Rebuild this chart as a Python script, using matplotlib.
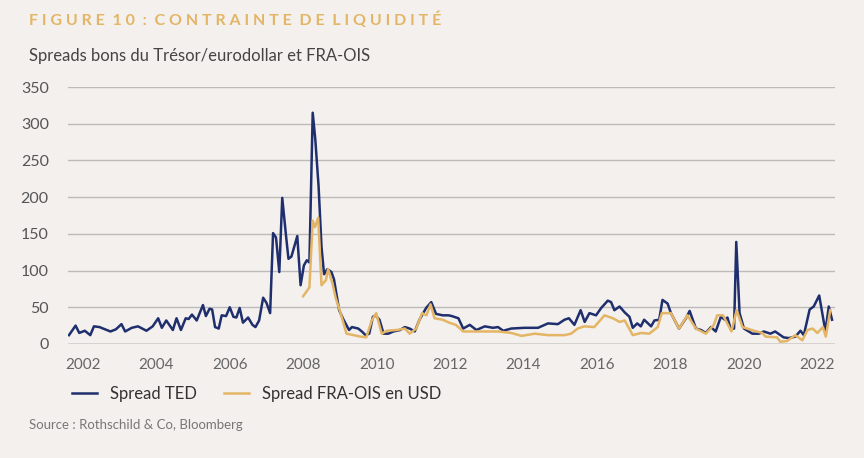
import matplotlib
matplotlib.use("Agg")
import matplotlib.pyplot as plt

ted_x = [2001.62,2001.8,2001.9,2002.05,2002.2,2002.3,2002.45,2002.75,2002.9,2003.05,2003.15,2003.33,2003.5,2003.73,2003.9,2004.05,2004.15,2004.27,2004.45,2004.55,2004.67,2004.8,2004.88,2004.97,2005.1,2005.27,2005.35,2005.45,2005.52,2005.6,2005.7,2005.78,2005.9,2006.0,2006.1,2006.18,2006.27,2006.36,2006.5,2006.62,2006.7,2006.8,2006.91,2007.0,2007.1,2007.18,2007.26,2007.35,2007.43,2007.54,2007.6,2007.68,2007.84,2007.93,2008.02,2008.1,2008.17,2008.26,2008.33,2008.42,2008.5,2008.57,2008.66,2008.77,2008.84,2008.98,2009.1,2009.25,2009.33,2009.5,2009.6,2009.7,2009.8,2009.9,2009.97,2010.08,2010.19,2010.32,2010.46,2010.64,2010.77,2010.9,2011.04,2011.17,2011.35,2011.49,2011.62,2011.8,2011.96,2012.05,2012.23,2012.36,2012.54,2012.72,2012.95,2013.17,2013.31,2013.45,2013.67,2014.03,2014.4,2014.67,2014.94,2015.12,2015.24,2015.39,2015.56,2015.67,2015.8,2015.98,2016.12,2016.3,2016.39,2016.48,2016.62,2016.76,2016.89,2016.98,2017.1,2017.2,2017.29,2017.48,2017.57,2017.7,2017.79,2017.93,2018.02,2018.24,2018.43,2018.53,2018.7,2018.84,2018.97,2019.11,2019.24,2019.38,2019.49,2019.56,2019.65,2019.74,2019.8,2019.89,2020.01,2020.24,2020.42,2020.55,2020.73,2020.86,2021.09,2021.23,2021.41,2021.55,2021.64,2021.8,2021.91,2022.06,2022.23,2022.32,2022.41]
ted_y = [12,25,15,18,12,24,23,17,20,27,17,22,24,18,24,35,22,32,19,35,19,35,34,40,32,53,38,48,47,23,21,39,38,50,37,36,49,29,36,26,23,32,63,56,42,151,145,98,199,144,116,119,147,80,107,114,111,315,279,215,132,95,102,98,88,46,33,19,23,21,17,12,14,37,39,33,14,14,17,19,23,21,17,33,49,57,41,39,39,38,35,21,26,19,24,22,23,18,21,22,22,28,27,33,35,26,46,30,42,39,49,59,57,46,51,43,37,22,28,24,33,24,32,33,60,55,42,21,35,45,21,19,15,23,17,37,33,36,20,21,139,42,21,14,14,17,14,17,9,8,10,18,12,47,51,66,17,51,33]

fra_x = [2008.0,2008.17,2008.26,2008.32,2008.41,2008.5,2008.62,2008.68,2008.8,2008.89,2009.02,2009.18,2009.38,2009.56,2009.72,2009.87,2009.99,2010.14,2010.28,2010.55,2010.77,2010.9,2011.08,2011.24,2011.36,2011.47,2011.58,2011.8,2011.98,2012.16,2012.36,2012.68,2012.86,2013.31,2013.67,2013.95,2014.31,2014.67,2015.12,2015.3,2015.48,2015.66,2015.93,2016.21,2016.44,2016.62,2016.76,2016.98,2017.21,2017.43,2017.66,2017.77,2018.02,2018.24,2018.47,2018.7,2018.97,2019.19,2019.28,2019.44,2019.67,2019.81,2019.97,2020.28,2020.51,2020.6,2020.91,2021.0,2021.18,2021.41,2021.6,2021.74,2021.88,2022.01,2022.16,2022.24,2022.36]
fra_y = [65,77,168,159,172,80,87,102,82,62,42,14,12,10,9,32,42,14,18,19,21,14,21,42,39,54,35,33,29,26,17,17,17,17,15,11,14,12,12,14,21,24,23,39,35,30,32,12,15,14,23,42,42,21,39,21,14,26,39,39,17,46,23,18,15,10,9,3,4,12,5,19,21,15,23,10,46]

bg = "#f3f0ee"
navy = "#1f2f6e"
gold = "#e3b564"
plt.rcParams['font.family'] = ['Lato', 'DejaVu Sans']
fig = plt.figure(figsize=(8.64, 4.58), dpi=100, facecolor=bg)
ax = fig.add_axes([0.079, 0.249, 0.887, 0.561], facecolor=bg)
ax.plot(ted_x, ted_y, color=navy, lw=1.8, label="Spread TED")
ax.plot(fra_x, fra_y, color=gold, lw=1.8, label="Spread FRA-OIS en USD")
ax.set_xlim(2001.6, 2022.48)
ax.set_ylim(0, 350)
ax.set_yticks(range(0, 351, 50))
ax.set_xticks(range(2002, 2023, 2))
ax.grid(axis='y', color='#bdbbba', lw=1)
ax.set_axisbelow(True)
for s in ax.spines.values():
    s.set_visible(False)
ax.axhline(0, color='#8a8886', lw=1)
ax.tick_params(length=0, labelsize=11.5, colors='#555555')
ax.tick_params(axis='x', pad=10, colors='#666666', labelsize=11)
ax.tick_params(axis='y', pad=14)
fig.text(0.033, 0.975, "F I G U R E  1 0  :  C O N T R A I N T E  D E  L I Q U I D I T É", color=gold, fontsize=11.5,
         fontweight='bold', va='top')
fig.text(0.033, 0.895, "Spreads bons du Trésor/eurodollar et FRA-OIS", color='#444444', fontsize=12, va='top')
ax.legend(loc='upper left', bbox_to_anchor=(-0.015, -0.105), ncol=2, frameon=False,
          fontsize=12, handlelength=1.5, columnspacing=1.6, labelcolor='#333333')
fig.text(0.033, 0.072, "Source : Rothschild & Co, Bloomberg", color='#777777', fontsize=9.5, va='center')
fig.savefig("out.png", dpi=100, facecolor=bg)
